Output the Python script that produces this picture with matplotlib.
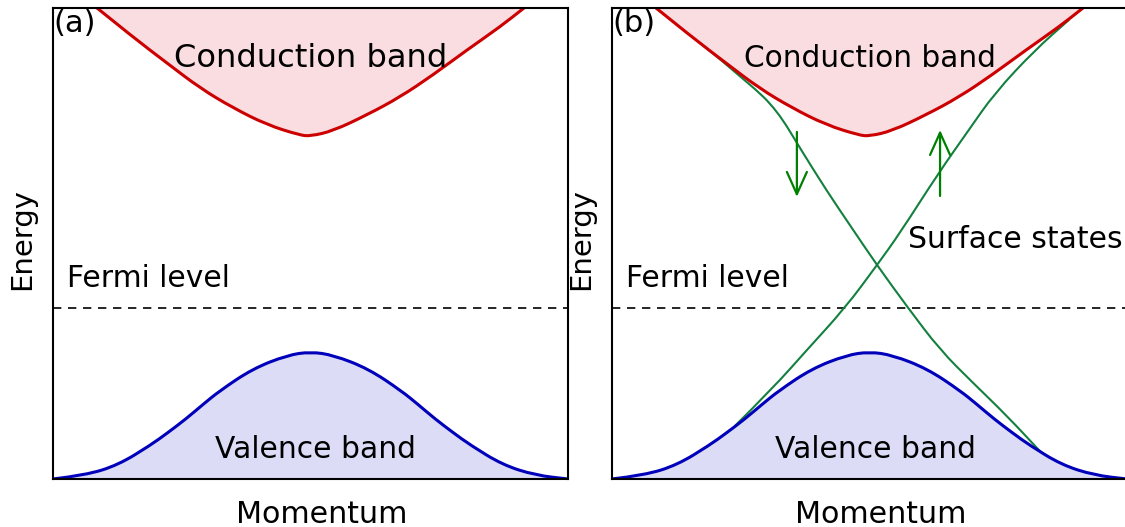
import numpy as np
import matplotlib
matplotlib.use("Agg")
from matplotlib import pyplot as plt
from matplotlib.patches import FancyArrowPatch, PathPatch
from matplotlib.path import Path

# band shapes (momentum k in -1..1, energy 0..1)
cond_k = [-0.829, -0.689, -0.557, -0.429, -0.301, -0.169, -0.041, 0.0, 0.087, 0.219, 0.348, 0.476, 0.608, 0.736, 0.829]
cond_E = [1.0, 0.938, 0.883, 0.830, 0.788, 0.752, 0.730, 0.728, 0.739, 0.773, 0.811, 0.858, 0.911, 0.960, 1.0]

# right half of the valence band (mirrored for the left half)
val_k = [0.0, 0.089, 0.225, 0.353, 0.416, 0.485, 0.555, 0.621, 0.746, 0.874, 1.0]
val_E = [0.270, 0.263, 0.234, 0.187, 0.159, 0.127, 0.098, 0.072, 0.030, 0.008, 0.0]

fermi = 0.363

# surface states in panel (b)
surf1_k = [-0.658, -0.464, -0.359, -0.266, -0.165, -0.076, 0.029, 0.150, 0.274, 0.402, 0.534, 0.662]
surf1_E = [0.926, 0.839, 0.783, 0.699, 0.611, 0.539, 0.454, 0.363, 0.274, 0.204, 0.134, 0.059]
surf2_k = [-0.522, -0.375, -0.243, -0.095, 0.029, 0.118, 0.266, 0.383, 0.487, 0.643, 0.775]
surf2_E = [0.113, 0.193, 0.274, 0.363, 0.454, 0.522, 0.648, 0.739, 0.820, 0.911, 0.975]

# spin arrows (k, E_start, E_end)
spin_down = (-0.282, 0.737, 0.599)
spin_up = (0.274, 0.601, 0.741)

vk = np.concatenate([-np.array(val_k)[:0:-1], val_k])
vE = np.concatenate([np.array(val_E)[:0:-1], val_E])

red = "#cc0000"
pink = "#f9dde1"
blue = "#0000bb"
lav = "#dcdcf7"
green = "#13803f"
arrow_green = "#008000"
fill_of = {red: pink, blue: lav}


def smooth(k, E):
    # quadratic bezier through the read points, so the curve has no corners
    pts = np.column_stack([k, E])
    verts = [pts[0]]
    codes = [Path.MOVETO]
    for i in range(1, len(pts) - 1):
        verts += [pts[i], (pts[i] + pts[i + 1]) / 2]
        codes += [Path.CURVE3, Path.CURVE3]
    verts.append(pts[-1])
    codes.append(Path.LINETO)
    return verts, codes


def curve(ax, k, E, color, lw, z, close_to=None):
    verts, codes = smooth(k, E)
    if close_to is not None:
        fv = verts + [(k[-1], close_to), (k[0], close_to), (k[0], E[0])]
        fc = codes + [Path.LINETO, Path.LINETO, Path.CLOSEPOLY]
        ax.add_patch(PathPatch(Path(fv, fc), facecolor=fill_of[color], lw=0, zorder=1))
    ax.add_patch(PathPatch(Path(verts, codes), facecolor="none", edgecolor=color, lw=lw,
                           zorder=z, capstyle="round"))


fig = plt.figure(figsize=(11.25, 5.27), dpi=100)
W, H = 1125.0, 527.0
ax_a = fig.add_axes([53 / W, 48 / H, 515 / W, 471 / H])
ax_b = fig.add_axes([612 / W, 48 / H, 515 / W, 471 / H])


def draw_bands(ax, label, cb_size, vb_x):
    curve(ax, cond_k, cond_E, red, 2.2, 4, close_to=1.05)
    curve(ax, vk, vE, blue, 2.2, 4, close_to=0.0)
    ax.axhline(fermi, color="black", lw=1.2, ls=(0, (5, 4)), zorder=2)
    ax.set_xlim(-1, 1)
    ax.set_ylim(0, 1)
    ax.set_xticks([])
    ax.set_yticks([])
    for s in ax.spines.values():
        s.set_linewidth(1.5)
        s.set_zorder(6)
    ax.text(0.0, 0.997, label, transform=ax.transAxes, ha="left", va="top", fontsize=22, zorder=7)
    ax.text(0.0, 0.875, "Conduction band", ha="center", va="baseline", fontsize=cb_size, zorder=7)
    ax.text(-0.946, 0.408, "Fermi level", ha="left", va="baseline", fontsize=21.4, zorder=7)
    ax.text(vb_x, 0.045, "Valence band", ha="center", va="baseline", fontsize=21.4, zorder=7)
    ax.text(0.521, -0.093, "Momentum", transform=ax.transAxes, ha="center", va="baseline", fontsize=21.7)
    ax.text(-0.060, 0.51, "Energy", transform=ax.transAxes, ha="center", va="center",
            rotation=90, fontsize=21)


draw_bands(ax_a, "(a)", 23.1, 0.02)
draw_bands(ax_b, "(b)", 21.3, 0.025)
ax_b.spines["right"].set_visible(False)

curve(ax_b, surf1_k, surf1_E, green, 1.5, 3)
curve(ax_b, surf2_k, surf2_E, green, 1.5, 3)

for k, e0, e1 in [spin_down, spin_up]:
    arr = FancyArrowPatch((k, e0), (k, e1), arrowstyle="->,head_length=1.0,head_width=0.45",
                          mutation_scale=16, color=arrow_green, lw=1.6, zorder=5,
                          shrinkA=0, shrinkB=0)
    ax_b.add_patch(arr)

ax_b.text(0.150, 0.49, "Surface states", ha="left", va="baseline", fontsize=21.5, zorder=7)

fig.savefig("out.png", dpi=100)
